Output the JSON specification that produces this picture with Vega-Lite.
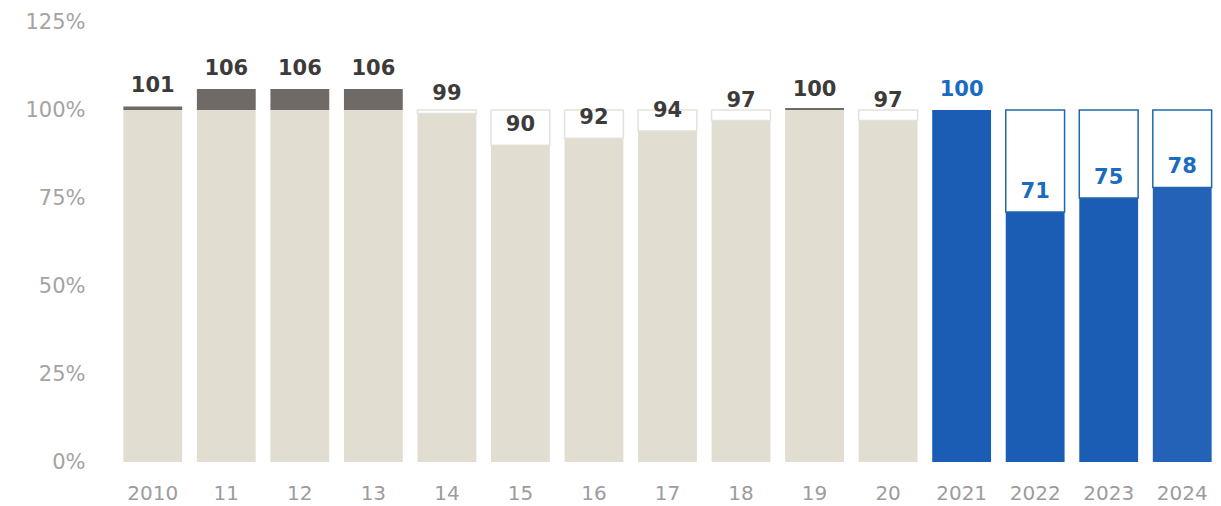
{
  "$schema": "https://vega.github.io/schema/vega-lite/v6.json",
  "autosize": "none",
  "width": 1103,
  "height": 440,
  "padding": {"left": 116, "top": 22, "right": 2, "bottom": 44},
  "background": "white",
  "config": {"view": {"stroke": null}},
  "data": {"values": [
    {"yr": "2010", "period": "past", "value": 101, "base": 100, "over": 101},
    {"yr": "11", "period": "past", "value": 106, "base": 100, "over": 106},
    {"yr": "12", "period": "past", "value": 106, "base": 100, "over": 106},
    {"yr": "13", "period": "past", "value": 106, "base": 100, "over": 106},
    {"yr": "14", "period": "past", "value": 99, "base": 99, "over": 99},
    {"yr": "15", "period": "past", "value": 90, "base": 90, "over": 90},
    {"yr": "16", "period": "past", "value": 92, "base": 92, "over": 92},
    {"yr": "17", "period": "past", "value": 94, "base": 94, "over": 94},
    {"yr": "18", "period": "past", "value": 97, "base": 97, "over": 97},
    {"yr": "19", "period": "past", "value": 100, "base": 100, "over": 100.6},
    {"yr": "20", "period": "past", "value": 97, "base": 97, "over": 97},
    {"yr": "2021", "period": "recent", "value": 100, "base": 100, "over": 100},
    {"yr": "2022", "period": "recent", "value": 71, "base": 71, "over": 71},
    {"yr": "2023", "period": "recent", "value": 75, "base": 75, "over": 75},
    {"yr": "2024", "period": "forecast", "value": 78, "base": 78, "over": 78}
  ]},
  "encoding": {
    "x": {
      "field": "yr", "type": "nominal", "sort": null,
      "scale": {"paddingInner": 0.2, "paddingOuter": 0.1},
      "axis": {
        "title": null, "labelAngle": 0, "domain": false, "ticks": false,
        "labelFont": "DejaVu Sans", "labelFontSize": 20, "labelColor": "#9c9c9c",
        "labelPadding": 21
      }
    }
  },
  "layer": [
    {
      "mark": {"type": "bar"},
      "encoding": {
        "y": {
          "field": "base", "type": "quantitative",
          "scale": {"domain": [0, 125], "nice": false},
          "axis": {
            "title": null, "values": [0, 25, 50, 75, 100, 125],
            "labelExpr": "datum.value + '%'", "grid": false, "domain": false, "ticks": false,
            "labelFont": "DejaVu Sans", "labelFontSize": 21, "labelColor": "#a3a3a3",
            "labelPadding": 31
          }
        },
        "color": {
          "field": "period", "type": "nominal", "legend": null,
          "scale": {"domain": ["past", "recent", "forecast"], "range": ["#e1ddd1", "#1b5db4", "#2462b8"]}
        }
      }
    },
    {
      "transform": [{"filter": "datum.value < 100"}],
      "mark": {"type": "bar", "fill": "white", "strokeWidth": 1.5},
      "encoding": {
        "y": {"field": "base", "type": "quantitative"},
        "y2": {"datum": 100},
        "stroke": {"condition": {"test": "datum.period == 'past'", "value": "#e4e2dc"}, "value": "#1f6aa6"}
      }
    },
    {
      "transform": [{"filter": "datum.over > 100"}],
      "mark": {"type": "bar", "color": "#6f6a66"},
      "encoding": {
        "y": {"field": "over", "type": "quantitative"},
        "y2": {"datum": 100}
      }
    },
    {
      "mark": {"type": "text", "baseline": "bottom", "dy": -10, "font": "DejaVu Sans", "fontWeight": "bold", "fontSize": 21},
      "encoding": {
        "y": {"field": "value", "type": "quantitative"},
        "text": {"field": "value", "type": "quantitative", "format": ".0f"},
        "color": {"condition": {"test": "datum.period == 'past'", "value": "#3d3b39"}, "value": "#1a6cc0"}
      }
    }
  ]
}
